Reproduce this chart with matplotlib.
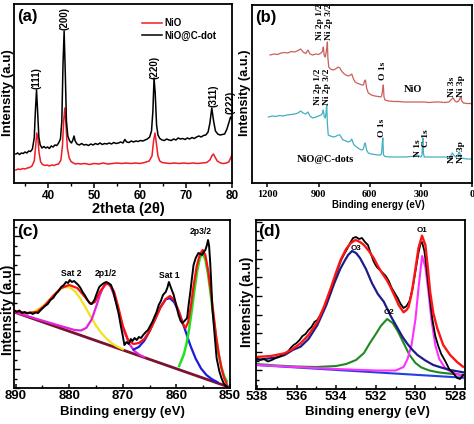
import matplotlib
matplotlib.use('Agg')
import numpy as np
import matplotlib.pyplot as plt
from matplotlib.ticker import MultipleLocator, NullFormatter

plt.rcParams['font.family'] = ['Liberation Sans', 'DejaVu Sans']
plt.rcParams['font.weight'] = 'bold'
plt.rcParams['axes.labelweight'] = 'bold'

# ---------------- (a) XRD : (2theta, intensity) ----------------
xrd_cdot = [(33.0, 29), (33.4, 30), (33.8, 28.5), (34.2, 30), (34.6, 29.5), (35.0, 31), (35.4, 30),
            (35.8, 32), (36.2, 31.5), (36.6, 34), (37.0, 45), (37.25, 72), (37.5, 93), (37.75, 70),
            (38.0, 46), (38.3, 38), (38.7, 35), (39.1, 36.5), (39.5, 35), (39.9, 36), (40.3, 34.5),
            (40.7, 37), (41.1, 36), (41.5, 38), (41.9, 37.5), (42.3, 40), (42.7, 44), (43.0, 62),
            (43.25, 118), (43.5, 152), (43.75, 110), (44.0, 62), (44.3, 47), (44.7, 42), (45.1, 40),
            (45.4, 43), (45.65, 47), (45.9, 42), (46.3, 39), (46.8, 38), (47.3, 39.5), (47.8, 38),
            (48.3, 38.5), (48.8, 37.5), (49.3, 39), (49.8, 38), (50.3, 39.5), (50.8, 38.5), (51.3, 40),
            (51.8, 38.5), (52.3, 39.5), (52.8, 39), (53.3, 40), (53.8, 39), (54.3, 40.5), (54.8, 39.5),
            (55.3, 40), (55.8, 41), (56.3, 40), (56.7, 43.5), (57.1, 41), (57.6, 40.5), (58.1, 42),
            (58.6, 41), (59.1, 42), (59.6, 41.5), (60.1, 42.5), (60.6, 42), (61.1, 43), (61.6, 44),
            (62.1, 46), (62.5, 52), (62.8, 72), (63.05, 105), (63.3, 90), (63.6, 58), (63.9, 48),
            (64.3, 44.5), (64.8, 43), (65.3, 42.5), (65.8, 44), (66.3, 43), (66.8, 42.5), (67.3, 44),
            (67.8, 43), (68.3, 45), (68.8, 44), (69.3, 44.5), (69.8, 43.5), (70.3, 45), (70.8, 44),
            (71.3, 45.5), (71.8, 44.5), (72.3, 46), (72.8, 47), (73.3, 46), (73.8, 47.5), (74.3, 48),
            (74.8, 51), (75.2, 60), (75.6, 75), (76.0, 62), (76.4, 52), (76.9, 49), (77.4, 48),
            (77.9, 48.5), (78.4, 49), (78.9, 54), (79.3, 60), (79.7, 66), (80.0, 64)]

xrd_nio = [(33.0, 13), (33.5, 14), (34.0, 13.5), (34.5, 14.5), (35.0, 14), (35.5, 15), (36.0, 15.5),
           (36.5, 17), (37.0, 22), (37.3, 36), (37.55, 50), (37.8, 44), (38.05, 30), (38.4, 21),
           (38.8, 18.5), (39.3, 17.5), (39.8, 18), (40.3, 17), (40.8, 18), (41.3, 17.5), (41.8, 18.5),
           (42.3, 19), (42.8, 23), (43.15, 38), (43.4, 62), (43.65, 75), (43.9, 58), (44.2, 35),
           (44.6, 25), (45.0, 21.5), (45.5, 20), (46.0, 19), (46.5, 19.5), (47, 19), (48, 19.5),
           (49, 18.5), (50, 19.5), (51, 19), (52, 20), (53, 19), (54, 19.5), (55, 20), (56, 19.5),
           (57, 20), (58, 19.5), (59, 20), (60, 19.5), (61, 20.5), (62, 22), (62.6, 27), (62.95, 42),
           (63.25, 50), (63.55, 40), (63.9, 27), (64.3, 22), (64.8, 20.5), (65.5, 20), (66.5, 19.5),
           (67.5, 20), (68.5, 19.5), (69.5, 20), (70.5, 19.5), (71.5, 20), (72.5, 19.5), (73.5, 20),
           (74.5, 20.5), (75.2, 23), (75.6, 27), (75.95, 29), (76.3, 26), (76.8, 22), (77.5, 20),
           (78.2, 19.5), (78.8, 20), (79.3, 21), (79.7, 25), (80.0, 28)]

hkl_labels = ['(111)', '(200)', '(220)', '(311)', '(222)']
hkl_pos = [(37.6, 105), (43.5, 164), (63.1, 116), (75.9, 87), (79.6, 81)]

# ---------------- (b) XPS survey : (binding energy, intensity) ----------------
survey_nio = [(1184, 128), (1160, 129), (1140, 128.5), (1120, 130), (1100, 130.5), (1080, 130),
              (1060, 131.5), (1040, 131), (1020, 132.5), (1005, 134), (990, 131), (975, 129.5),
              (962, 133), (950, 129), (935, 128), (915, 129), (900, 128.5), (885, 130), (876, 132),
              (872, 136), (866, 127), (860, 126), (856, 130), (851, 135), (848, 141), (845, 125),
              (840, 116), (830, 114), (815, 113), (800, 114), (785, 116), (775, 115), (765, 112),
              (755, 110), (740, 108), (725, 107), (712, 108), (705, 109), (695, 104), (685, 101),
              (676, 100), (660, 99), (645, 98), (637, 98), (630, 102), (625, 103), (618, 95),
              (608, 90), (590, 88), (570, 87), (550, 86.5), (535, 86), (530, 87), (524, 93),
              (520, 98), (516, 86), (510, 83), (490, 82), (460, 81.5), (430, 81.5), (400, 81),
              (370, 81), (340, 81), (310, 81), (280, 81), (250, 80.5), (220, 81), (190, 81),
              (160, 80.5), (135, 81), (118, 84), (110, 85), (100, 82), (90, 81), (78, 82), (70, 85),
              (66, 86), (60, 82), (50, 80), (30, 79.5), (10, 79.5), (0, 79)]

survey_cdot = [(1194, 66), (1170, 67), (1150, 66.5), (1130, 67.5), (1108, 67), (1085, 68), (1060, 68.5),
               (1040, 69), (1020, 70), (1005, 72), (990, 70), (975, 69), (962, 71), (950, 67),
               (935, 65), (915, 66), (900, 67), (885, 68), (876, 70), (872, 73), (866, 66), (860, 65),
               (856, 70), (852, 78), (848, 60), (843, 48), (830, 47), (813, 46), (800, 46.5),
               (785, 48), (774, 48), (765, 45), (755, 43), (740, 42), (725, 41), (712, 42), (705, 44),
               (695, 39), (685, 37), (676, 36), (660, 34), (645, 33), (637, 34), (630, 39), (626, 40),
               (618, 33), (608, 30), (590, 29), (570, 28.5), (550, 28), (535, 28), (530, 30),
               (526, 40), (523, 45), (519, 28), (510, 26.5), (480, 26), (450, 26), (420, 26),
               (390, 26), (360, 26.5), (330, 27), (320, 28), (310, 27), (300, 26), (293, 28),
               (290, 40), (288, 45), (285, 30), (280, 26), (250, 26), (220, 26), (190, 26), (160, 26),
               (140, 26), (125, 27), (115, 30), (108, 28), (95, 26), (85, 27), (76, 31), (72, 30),
               (65, 25), (50, 24.5), (30, 24), (10, 24), (0, 24)]

# (text, energy, y of text bottom, rotated)
survey_labels = [('Ni 2p 1/2', 890, 143, True), ('Ni 2p 3/2', 838, 143, True),
                 ('O 1s', 520, 103, True), ('NiO', 344, 93, False),
                 ('Ni 3s', 117, 86, True), ('Ni 3p', 64, 86, True),
                 ('Ni 2p 1/2', 904, 78, True), ('Ni 2p 3/2', 853, 78, True),
                 ('O 1s', 530, 46, True), ('N 1s', 318, 26, True), ('C 1s', 272, 36, True),
                 ('NiO@C-dots', 862, 23, False), ('Ni', 119, 20, True), ('Ni 3p', 67, 20, True)]

# ---------------- (c) Ni 2p : (binding energy, intensity) ----------------
ni_raw = [(890.3, 78), (889.8, 76), (889.3, 77.5), (888.8, 75), (888.3, 76), (887.8, 74.5), (887.3, 75.5),
          (886.8, 74), (886.3, 75.5), (885.8, 75), (885.3, 78), (884.9, 80), (884.5, 82), (884.0, 84),
          (883.5, 88), (883.0, 90), (882.5, 94), (882.0, 97), (881.5, 101), (881.0, 103), (880.6, 106),
          (880.2, 105), (879.9, 108), (879.5, 106), (879.1, 107), (878.7, 105), (878.3, 103),
          (877.9, 100), (877.5, 96), (877.0, 92), (876.6, 88), (876.2, 85), (875.8, 84), (875.3, 88),
          (874.9, 94), (874.4, 101), (874.0, 103), (873.5, 105), (873.1, 106), (872.7, 105),
          (872.2, 103), (871.8, 97), (871.3, 86), (870.8, 75), (870.4, 63), (870.0, 52), (869.7, 43),
          (869.3, 46), (868.9, 44), (868.5, 49), (868.2, 47), (867.8, 50), (867.4, 48), (867.0, 51),
          (866.6, 50), (866.2, 53), (865.7, 56), (865.3, 58), (864.9, 62), (864.5, 66), (864.1, 71),
          (863.7, 76), (863.3, 83), (862.9, 87), (862.5, 93), (862.0, 96), (861.7, 100), (861.4, 106),
          (861.0, 100), (860.5, 93), (860.0, 82), (859.6, 73), (859.2, 67), (858.9, 65), (858.5, 67),
          (858.0, 70), (857.7, 84), (857.4, 96), (857.1, 110), (856.8, 123), (856.4, 130), (855.9, 135),
          (855.5, 134), (855.2, 133), (854.9, 136), (854.6, 138), (854.3, 143), (854.1, 148),
          (853.9, 142), (853.7, 126), (853.5, 105), (853.3, 80), (852.9, 55), (852.5, 30), (852.0, 17),
          (851.6, 10), (851.2, 5), (850.8, 2), (850.5, 1)]

ni_envelope = [(890.3, 77), (888, 75), (886, 76), (884.5, 83), (883, 92), (881.5, 100), (880, 103),
               (878.5, 100), (877.2, 92), (876, 84), (875.2, 86), (874.3, 96), (873.2, 104), (872.5, 104),
               (871.6, 96), (870.8, 80), (870, 62), (869, 48), (868, 44), (867, 45), (866, 49), (865, 57),
               (864, 68), (863, 80), (862, 89), (861.2, 92), (860.4, 88), (859.5, 76), (858.8, 64),
               (858.3, 60), (857.8, 66), (857.3, 82), (856.8, 102), (856.2, 122), (855.6, 134),
               (855.1, 138), (854.6, 133), (854.1, 118), (853.6, 98), (853.1, 75), (852.6, 52),
               (852.1, 34), (851.6, 20), (851.1, 10), (850.6, 4)]

ni_sat2 = [(888.5, 74.5), (887, 75.2), (885, 81.1), (884, 86.3), (883, 92.2), (882, 97.6), (881, 100.8),
           (880, 100.8), (879, 97.1), (878, 90.1), (877, 81.0), (876, 71.4), (875, 62.4), (874, 55),
           (873, 49.1), (872, 44.5), (871, 41.3), (870, 38.8)]

ni_2p12 = [(890.3, 76), (886, 69.0), (882, 62.6), (879, 58.0), (877.8, 57.5), (876.8, 60.2),
           (875.8, 68.7), (874.8, 84.1), (874.3, 92.6), (873.8, 99.1), (873.3, 103.4), (872.8, 104.4),
           (872.3, 101.6), (871.8, 95.3), (871.3, 87.0), (870.8, 76.7), (869.8, 57.5), (868.8, 44.2),
           (867.8, 36.8), (866.8, 32.9), (866, 30.8)]

ni_sat1 = [(868, 38.4), (867, 41.1), (866, 47.2), (865, 56.8), (864, 69.0), (863, 80.9), (862, 88.7),
           (861.2, 89.8), (860.4, 85.7), (859.4, 74.2), (858.4, 58.5), (857.4, 42.6), (856.4, 29.3),
           (855.4, 19.5), (854.4, 13.0), (853.4, 8.9), (852.4, 6.0)]

ni_2p32 = [(859.5, 22), (859.1, 27.0), (858.6, 33.8), (858.1, 44.6), (857.6, 59.8), (857.1, 78.7),
           (856.6, 99.2), (856.1, 117.6), (855.6, 130.4), (855.1, 134.5), (854.6, 128.5), (854.1, 113.9),
           (853.6, 93.6), (853.1, 71.2), (852.6, 50.5), (852.1, 33.4), (851.6, 20.7), (851.1, 12.1),
           (850.6, 6.6)]

ni_background = [(890.3, 76), (850.5, 1.5)]

ni_labels = ['Sat 2', '2p1/2', 'Sat 1', '2p3/2']
ni_label_pos = [(879.6, 115), (873.1, 115), (861.4, 113), (855.5, 156)]

# ---------------- (d) O 1s : (binding energy, intensity) ----------------
o_raw = [(538.05, 31), (537.85, 29), (537.65, 30), (537.45, 27.5), (537.25, 29), (537.05, 31),
         (536.85, 32.5), (536.65, 35), (536.45, 37), (536.3, 41), (536.15, 44), (536.0, 46),
         (535.85, 49), (535.7, 53), (535.55, 55), (535.4, 59), (535.25, 62), (535.1, 67), (534.95, 69),
         (534.8, 74), (534.65, 80), (534.5, 88), (534.35, 95), (534.2, 104), (534.05, 113), (533.9, 121),
         (533.75, 129), (533.6, 135), (533.45, 140), (533.3, 146), (533.15, 151), (533.0, 152),
         (532.85, 150), (532.7, 151), (532.55, 147), (532.4, 144), (532.25, 135), (532.1, 127),
         (531.95, 122), (531.8, 119), (531.65, 116), (531.5, 113), (531.35, 108), (531.2, 101),
         (531.05, 96), (530.9, 91), (530.75, 85), (530.6, 81), (530.45, 83), (530.3, 88), (530.15, 100),
         (530.0, 118), (529.85, 136), (529.75, 145), (529.67, 147), (529.55, 138), (529.45, 122),
         (529.3, 95), (529.15, 70), (529.0, 53), (528.85, 43), (528.7, 35), (528.5, 28), (528.3, 20),
         (528.1, 16), (527.9, 11), (527.75, 10), (527.6, 14)]

o_envelope = [(538.05, 32), (537.3, 33), (536.6, 35.7), (536.2, 40), (535.8, 45.7), (535.4, 54),
              (534.95, 67), (534.6, 83), (534.28, 100.7), (534.0, 117), (533.78, 129), (533.5, 140),
              (533.28, 145.7), (533.03, 149), (532.8, 147), (532.6, 144), (532.35, 138), (532.1, 130.7),
              (531.9, 123), (531.68, 115.7), (531.45, 109), (531.27, 102.3), (531.05, 93), (530.85, 84),
              (530.6, 76.7), (530.45, 79), (530.35, 82), (530.2, 95), (530.1, 107.3), (529.95, 127),
              (529.85, 140.7), (529.67, 153.3), (529.5, 144), (529.38, 122), (529.26, 97.3),
              (529.1, 76), (528.9, 60.7), (528.6, 44), (528.25, 34), (527.9, 27), (527.6, 22.3)]

o_o3 = [(538.05, 29), (537.0, 31.5), (536.6, 34), (536.2, 39), (535.8, 42.3), (535.4, 50),
        (534.95, 64), (534.5, 84), (534.1, 105.7), (533.8, 120), (533.6, 127.3), (533.4, 134),
        (533.2, 138), (533.0, 136), (532.8, 131), (532.5, 120), (532.2, 106), (531.9, 95),
        (531.6, 87.3), (531.25, 73), (530.9, 60.7), (530.65, 52), (530.43, 45.7), (530.15, 39),
        (529.9, 34), (529.5, 28.5), (529.1, 24), (528.7, 21.5), (528.25, 19), (527.6, 16.7)]

o_o2 = [(538.05, 25), (537.0, 23.5), (536.0, 22.5), (535.0, 22), (534.0, 23), (533.5, 25), (533.0, 29),
        (532.6, 36), (532.3, 46), (532.0, 55), (531.75, 63), (531.43, 70), (531.15, 66), (530.9, 58),
        (530.6, 46), (530.3, 34), (530.0, 26), (529.7, 21.5), (529.3, 18.5), (528.8, 16.5),
        (528.2, 15.2), (527.6, 14)]

o_o1 = [(538.05, 24), (537.0, 23), (536.0, 22), (535.0, 21), (534.0, 20), (533.0, 19.2), (532.0, 18.5),
        (531.0, 18.5), (530.6, 22), (530.4, 30), (530.2, 44), (530.0, 70), (529.85, 100), (529.67, 133),
        (529.5, 122), (529.35, 98), (529.2, 70), (529.0, 44), (528.8, 30), (528.5, 21), (528.2, 17),
        (527.6, 13)]

o_background = [(538.05, 24), (527.6, 11.3)]

o_labels = ['O3', 'O2', 'O1']
o_label_pos = [(533.0, 141), (531.35, 77), (529.67, 159)]


def xy(pairs):
    arr = np.array(pairs, dtype=float)
    return arr[:, 0], arr[:, 1]


W, H = 474.0, 424.0


def box(l, t, r, b):
    return [l / W, 1 - b / H, (r - l) / W, (b - t) / H]


fig = plt.figure(figsize=(4.74, 4.24), dpi=100)
ax_a = fig.add_axes(box(14, 4, 232, 183))
ax_b = fig.add_axes(box(252, 5, 472, 183))
ax_c = fig.add_axes(box(14, 220, 230, 388))
ax_d = fig.add_axes(box(256, 220, 465, 389))

for ax in (ax_a, ax_b, ax_c, ax_d):
    for sp in ax.spines.values():
        sp.set_linewidth(1.3)

# ---- (a)
x, y = xy(xrd_nio)
ax_a.plot(x, y, color='#ee1c24', lw=1.1, label='NiO')
x, y = xy(xrd_cdot)
ax_a.plot(x, y, color='black', lw=1.1, label='NiO@C-dot')
for lab, (px, py) in zip(hkl_labels, hkl_pos):
    ax_a.text(px, py, lab, rotation=90, ha='center', va='center', fontsize=7, fontweight='bold')
ax_a.set_xlim(32.6, 80)
ax_a.set_ylim(0, 179)
ax_a.set_yticks([])
ax_a.xaxis.set_major_locator(MultipleLocator(10))
ax_a.xaxis.set_minor_locator(MultipleLocator(5))
ax_a.tick_params(axis='x', which='major', direction='out', length=3.5, width=1.1, labelsize=8.5, pad=1.5)
ax_a.tick_params(axis='x', which='minor', direction='out', length=2, width=1)
ax_a.set_xlabel('2theta (2θ)', fontsize=10.5)
ax_a.xaxis.set_label_coords(0.525, -0.108)
ax_a.legend(loc='upper left', bbox_to_anchor=(0.585, 0.92), frameon=False, fontsize=7,
            handlelength=2.1, handletextpad=0.3, labelspacing=0.25, borderpad=0, borderaxespad=0)
fig.text(8 / W, 1 - 93 / H, 'Intensity (a.u)', rotation=90, ha='center', va='center', fontsize=9.6)
fig.text(17 / W, 1 - 9 / H, '(a)', ha='left', va='top', fontsize=12)

# ---- (b)
x, y = xy(survey_nio)
ax_b.plot(x, y, color='#c9605c', lw=0.9)
x, y = xy(survey_cdot)
ax_b.plot(x, y, color='#44aec4', lw=0.9)
for lab, ex, ey, rot in survey_labels:
    if rot:
        ax_b.text(ex, ey, lab, rotation=90, ha='center', va='bottom', fontsize=6.8,
                  family='Liberation Serif', fontweight='bold', clip_on=False)
    else:
        ax_b.text(ex, ey, lab, ha='center', va='center', fontsize=7.5,
                  family='Liberation Serif', fontweight='bold')
ax_b.set_xlim(1290, 0)
ax_b.set_ylim(0, 178)
ax_b.set_yticks([])
ax_b.set_xticks([1200, 900, 600, 300, 0])
ax_b.tick_params(axis='x', direction='out', length=3, width=1.1, labelsize=7.5, pad=2)
for t in ax_b.get_xticklabels():
    t.set_family('Liberation Serif')
    t.set_fontweight('bold')
ax_b.set_xlabel('Binding energy (eV)', fontsize=7)
ax_b.xaxis.set_label_coords(0.575, -0.095)
fig.text(245 / W, 1 - 93 / H, 'Intensity (a.u.)', rotation=90, ha='center', va='center', fontsize=9.2)
fig.text(255 / W, 1 - 10 / H, '(b)', ha='left', va='top', fontsize=12)

# ---- (c)
x, y = xy(ni_background)
ax_c.plot(x, y, color='#7a1232', lw=2.0)
x, y = xy(ni_sat2)
ax_c.plot(x, y, color='#f2e21a', lw=1.6)
x, y = xy(ni_2p12)
ax_c.plot(x, y, color='#e024d8', lw=1.6)
x, y = xy(ni_sat1)
ax_c.plot(x, y, color='#1a1ae0', lw=1.6)
x, y = xy(ni_2p32)
ax_c.plot(x, y, color='#22e022', lw=1.8)
x, y = xy(ni_envelope)
ax_c.plot(x, y, color='#ff1010', lw=1.6)
x, y = xy(ni_raw)
ax_c.plot(x, y, color='black', lw=1.4)
for lab, (px, py) in zip(ni_labels, ni_label_pos):
    ax_c.text(px, py, lab, ha='center', va='center', fontsize=6.2, fontweight='bold')
ax_c.set_xlim(890.3, 850)
ax_c.set_ylim(0, 168)
ax_c.xaxis.set_major_locator(MultipleLocator(10))
ax_c.xaxis.set_minor_locator(MultipleLocator(5))
ax_c.yaxis.set_major_locator(MultipleLocator(19))
ax_c.yaxis.set_minor_locator(MultipleLocator(9.5))
ax_c.yaxis.set_major_formatter(NullFormatter())
ax_c.tick_params(axis='y', which='major', direction='in', length=4, width=1)
ax_c.tick_params(axis='y', which='minor', direction='in', length=2.5, width=1)
ax_c.tick_params(axis='x', which='major', direction='in', length=3, width=1.1, labelsize=9.5, pad=1.5)
ax_c.tick_params(axis='x', which='minor', direction='in', length=2, width=1)
ax_c.set_xlabel('Binding energy (eV)', fontsize=9.5)
ax_c.xaxis.set_label_coords(0.5, -0.105)
fig.text(8 / W, 1 - 310 / H, 'Intensity (a.u)', rotation=90, ha='center', va='center', fontsize=10)
fig.text(17 / W, 1 - 224 / H, '(c)', ha='left', va='top', fontsize=12.5)

# ---- (d)
x, y = xy(o_background)
ax_d.plot(x, y, color='#2040e0', lw=1.5)
x, y = xy(o_o2)
ax_d.plot(x, y, color='#1e8a1e', lw=1.5)
x, y = xy(o_o1)
ax_d.plot(x, y, color='#ff30ff', lw=1.5)
x, y = xy(o_o3)
ax_d.plot(x, y, color='#1c1c8a', lw=1.6)
x, y = xy(o_raw)
ax_d.plot(x, y, color='black', lw=1.3)
x, y = xy(o_envelope)
ax_d.plot(x, y, color='#ff1414', lw=1.7)
for lab, (px, py) in zip(o_labels, o_label_pos):
    ax_d.text(px, py, lab, ha='center', va='center', fontsize=5.8, fontweight='bold')
ax_d.set_xlim(538.05, 527.5)
ax_d.set_ylim(0, 169)
ax_d.xaxis.set_major_locator(MultipleLocator(2))
ax_d.xaxis.set_minor_locator(MultipleLocator(1))
ax_d.yaxis.set_major_locator(MultipleLocator(18.6))
ax_d.yaxis.set_minor_locator(MultipleLocator(9.3))
ax_d.yaxis.set_major_formatter(NullFormatter())
ax_d.tick_params(axis='y', which='major', direction='in', length=4, width=1)
ax_d.tick_params(axis='y', which='minor', direction='in', length=2.5, width=1)
ax_d.tick_params(axis='x', which='major', direction='in', length=3, width=1.1, labelsize=9.5, pad=1.5)
ax_d.tick_params(axis='x', which='minor', direction='in', length=2, width=1)
ax_d.set_xlabel('Binding energy (eV)', fontsize=9.5)
ax_d.xaxis.set_label_coords(0.531, -0.1)
fig.text(246.5 / W, 1 - 302 / H, 'Intensity (a.u)', rotation=90, ha='center', va='center', fontsize=10)
fig.text(258 / W, 1 - 224 / H, '(d)', ha='left', va='top', fontsize=12.5)

fig.savefig('out.png', dpi=100)
